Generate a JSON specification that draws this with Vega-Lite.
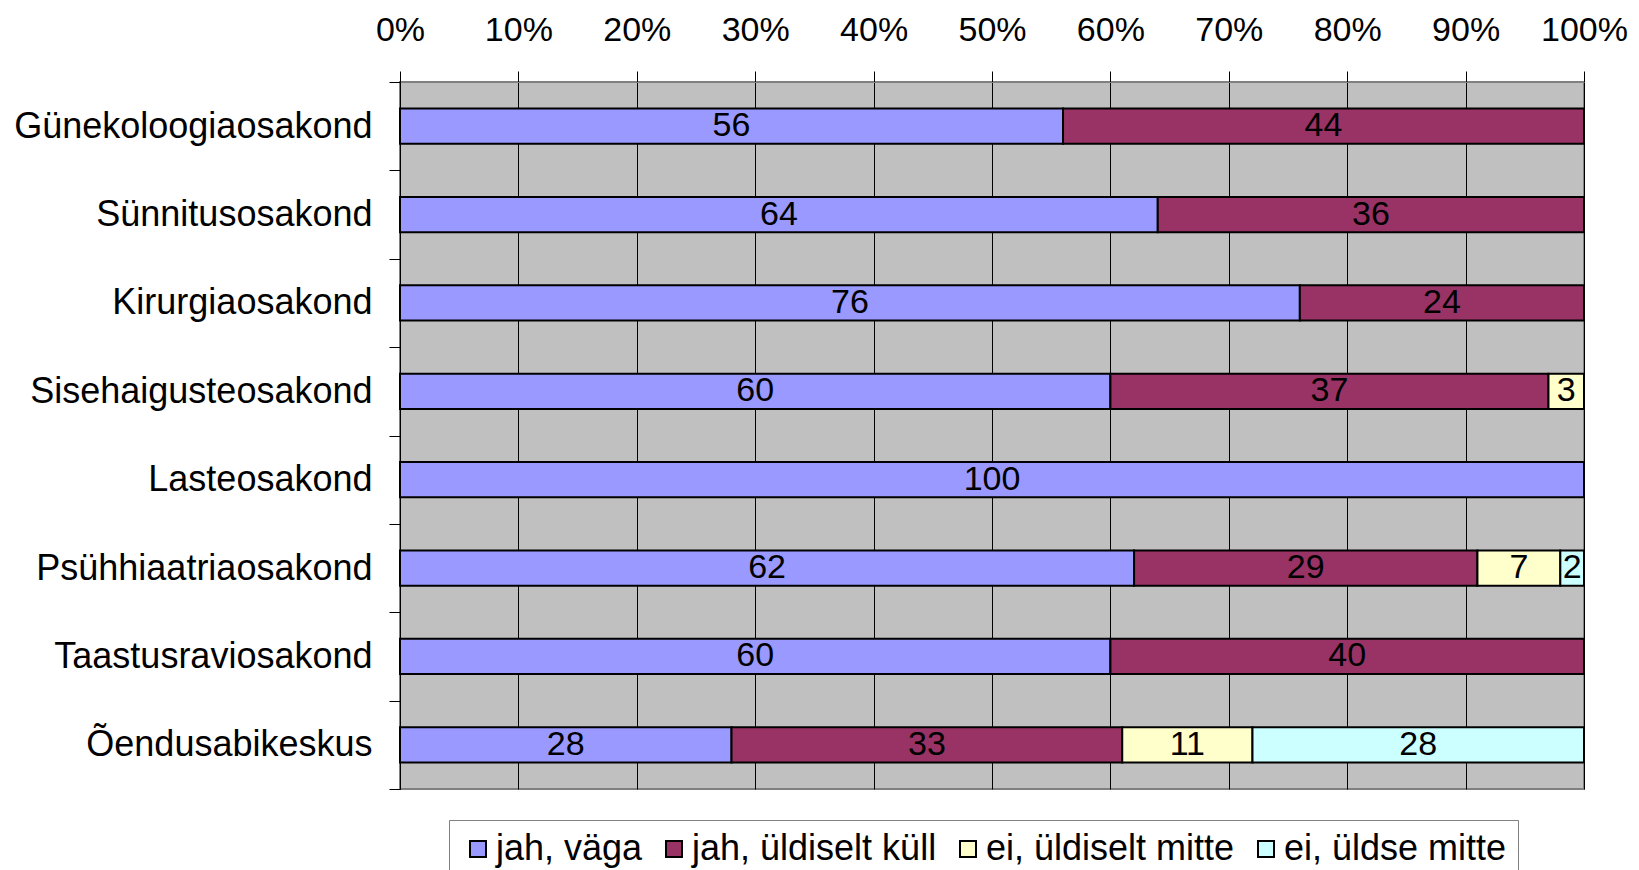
{
  "$schema": "https://vega.github.io/schema/vega-lite/v6.json",
  "autosize": "none",
  "width": 1184,
  "height": 707,
  "padding": {"left": 400, "top": 82, "right": 55, "bottom": 81},
  "background": "white",
  "config": {
    "font": "Liberation Sans",
    "view": {"fill": "#C0C0C0", "stroke": "#808080", "strokeWidth": 2}
  },
  "data": {
    "values": [
      {"d": "Günekoloogiaosakond", "c": "jah, väga", "v": 56, "n": 1},
      {"d": "Günekoloogiaosakond", "c": "jah, üldiselt küll", "v": 44, "n": 2},
      {"d": "Sünnitusosakond", "c": "jah, väga", "v": 64, "n": 1},
      {"d": "Sünnitusosakond", "c": "jah, üldiselt küll", "v": 36, "n": 2},
      {"d": "Kirurgiaosakond", "c": "jah, väga", "v": 76, "n": 1},
      {"d": "Kirurgiaosakond", "c": "jah, üldiselt küll", "v": 24, "n": 2},
      {"d": "Sisehaigusteosakond", "c": "jah, väga", "v": 60, "n": 1},
      {"d": "Sisehaigusteosakond", "c": "jah, üldiselt küll", "v": 37, "n": 2},
      {"d": "Sisehaigusteosakond", "c": "ei, üldiselt mitte", "v": 3, "n": 3},
      {"d": "Lasteosakond", "c": "jah, väga", "v": 100, "n": 1},
      {"d": "Psühhiaatriaosakond", "c": "jah, väga", "v": 62, "n": 1},
      {"d": "Psühhiaatriaosakond", "c": "jah, üldiselt küll", "v": 29, "n": 2},
      {"d": "Psühhiaatriaosakond", "c": "ei, üldiselt mitte", "v": 7, "n": 3},
      {"d": "Psühhiaatriaosakond", "c": "ei, üldse mitte", "v": 2, "n": 4},
      {"d": "Taastusraviosakond", "c": "jah, väga", "v": 60, "n": 1},
      {"d": "Taastusraviosakond", "c": "jah, üldiselt küll", "v": 40, "n": 2},
      {"d": "Õendusabikeskus", "c": "jah, väga", "v": 28, "n": 1},
      {"d": "Õendusabikeskus", "c": "jah, üldiselt küll", "v": 33, "n": 2},
      {"d": "Õendusabikeskus", "c": "ei, üldiselt mitte", "v": 11, "n": 3},
      {"d": "Õendusabikeskus", "c": "ei, üldse mitte", "v": 28, "n": 4}
    ]
  },
  "encoding": {
    "y": {
      "field": "d",
      "type": "nominal",
      "sort": ["Günekoloogiaosakond", "Sünnitusosakond", "Kirurgiaosakond", "Sisehaigusteosakond", "Lasteosakond", "Psühhiaatriaosakond", "Taastusraviosakond", "Õendusabikeskus"],
      "scale": {"paddingInner": 0, "paddingOuter": 0},
      "axis": {
        "title": null,
        "orient": "left",
        "tickBand": "extent",
        "tickSize": 11,
        "tickColor": "black",
        "domainColor": "black",
        "labelFontSize": 36,
        "labelColor": "black",
        "labelPadding": 17,
        "labelLimit": 500,
        "grid": false
      }
    },
    "x": {
      "field": "v",
      "type": "quantitative",
      "stack": "normalize",
      "scale": {"domain": [0, 1], "nice": false},
      "axis": {
        "title": null,
        "orient": "top",
        "values": [0, 0.1, 0.2, 0.3, 0.4, 0.5, 0.6, 0.7, 0.8, 0.9, 1],
        "format": ".0%",
        "tickSize": 11,
        "tickColor": "black",
        "domainColor": "#808080",
        "labelFontSize": 34,
        "labelColor": "black",
        "labelPadding": 24,
        "labelFlush": false,
        "grid": true,
        "gridColor": "black",
        "gridWidth": 1,
        "gridOpacity": 1
      }
    },
    "order": {"field": "n", "type": "quantitative"}
  },
  "layer": [
    {
      "mark": {"type": "bar", "stroke": "black", "strokeWidth": 2, "height": {"band": 0.4}},
      "encoding": {
        "color": {
          "field": "c",
          "type": "nominal",
          "scale": {
            "domain": ["jah, väga", "jah, üldiselt küll", "ei, üldiselt mitte", "ei, üldse mitte"],
            "range": ["#9999FF", "#993366", "#FFFFCC", "#CCFFFF"]
          },
          "legend": {
            "title": null,
            "orient": "none",
            "direction": "horizontal",
            "legendX": 49,
            "legendY": 738,
            "padding": 11,
            "strokeColor": "#808080",
            "fillColor": "white",
            "symbolType": "square",
            "symbolSize": 256,
            "symbolStrokeColor": "black",
            "symbolStrokeWidth": 2,
            "symbolOpacity": 1,
            "labelFontSize": 36,
            "labelColor": "black",
            "labelLimit": 500,
            "labelOffset": 0,
            "columnPadding": 13
          }
        }
      }
    },
    {
      "mark": {"type": "text", "fontSize": 34, "color": "black", "baseline": "middle", "dy": 0},
      "encoding": {
        "x": {"field": "v", "type": "quantitative", "stack": "normalize", "bandPosition": 0.5},
        "text": {"field": "v", "type": "quantitative"}
      }
    }
  ]
}
